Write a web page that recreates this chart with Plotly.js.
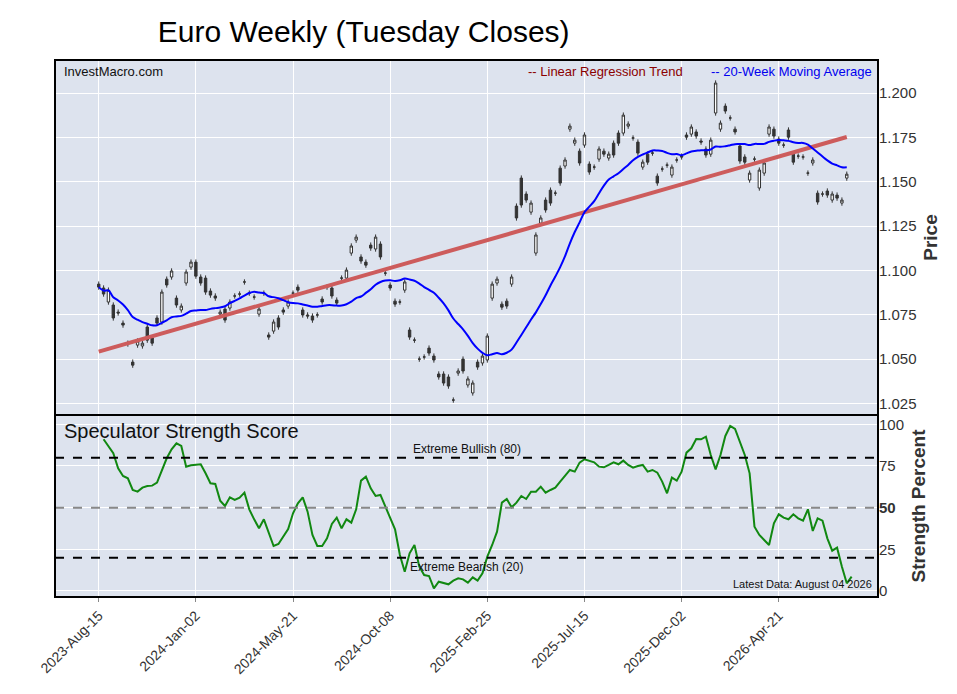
<!DOCTYPE html>
<html><head><meta charset="utf-8">
<script src="https://cdn.plot.ly/plotly-3.0.1.min.js"></script>
<style>body{margin:0}#c{width:957px;height:694px}</style></head>
<body><div id="c"></div>
<script>
const startDate = '2023-08-15';
const openP = [1.0923,1.0901,1.0822,1.0805,1.0765,1.0703,1.0590,1.0483,1.0579,1.0574,1.0681,1.0619,1.0732,1.0709,1.0951,1.0963,1.0844,1.0777,1.0929,1.1019,
1.1047,1.0963,1.0957,1.0884,1.0856,1.0754,1.0782,1.0788,1.0856,1.0867,1.0935,1.0872,1.0850,1.0754,1.0872,1.0636,1.0658,1.0732,1.0777,1.0799,
1.0872,1.0906,1.0777,1.0749,1.0743,1.0749,1.0839,1.0906,1.0901,1.0833,1.0957,1.0957,1.1098,1.1171,1.1076,1.1047,1.1143,1.1121,1.1149,1.0985,
1.0918,1.0827,1.0822,1.0889,1.0664,1.0607,1.0500,1.0512,1.0562,1.0517,1.0416,1.0416,1.0399,1.0269,1.0421,1.0500,1.0354,1.0309,1.0483,1.0478,
1.0495,1.0844,1.0929,1.0810,1.0827,1.0923,1.1363,1.1521,1.1431,1.1329,1.1098,1.1267,1.1397,1.1453,1.1436,1.1577,1.1589,1.1797,1.1718,1.1673,
1.1707,1.1600,1.1583,1.1628,1.1673,1.1634,1.1718,1.1775,1.1775,1.1814,1.1747,1.1724,1.1583,1.1656,1.1662,1.1532,1.1572,1.1594,1.1538,1.1623,
1.1645,1.1764,1.1769,1.1781,1.1730,1.1685,1.1656,1.1888,1.1797,1.1927,1.1860,1.1797,1.1702,1.1640,1.1510,1.1628,1.1465,1.1549,1.1769,1.1797,
1.1741,1.1707,1.1792,1.1656,1.1645,1.1640,1.1549,1.1606,1.1436,1.1431,1.1448,1.1397,1.1425,1.1380,1.1521];
const closeP = [1.0906,1.0867,1.0889,1.0732,1.0760,1.0692,1.0585,1.0466,1.0602,1.0590,1.0607,1.0590,1.0703,1.0878,1.0918,1.0997,1.0805,1.0799,1.0991,1.1047,
1.0968,1.0929,1.0878,1.0861,1.0844,1.0765,1.0720,1.0822,1.0856,1.0867,1.0935,1.0872,1.0850,1.0782,1.0872,1.0624,1.0709,1.0681,1.0765,1.0822,
1.0872,1.0889,1.0749,1.0743,1.0720,1.0749,1.0822,1.0906,1.0856,1.0816,1.0957,1.1002,1.1138,1.1188,1.1053,1.1030,1.1126,1.1188,1.1076,1.0985,
1.0901,1.0810,1.0822,1.0935,1.0624,1.0607,1.0500,1.0512,1.0534,1.0495,1.0399,1.0365,1.0348,1.0269,1.0433,1.0433,1.0388,1.0365,1.0455,1.0517,
1.0630,1.0923,1.0951,1.0793,1.0799,1.0963,1.1296,1.1369,1.1397,1.1380,1.1200,1.1296,1.1341,1.1380,1.1436,1.1493,1.1623,1.1814,1.1735,1.1606,
1.1764,1.1555,1.1583,1.1685,1.1656,1.1656,1.1651,1.1718,1.1876,1.1826,1.1747,1.1662,1.1611,1.1611,1.1662,1.1493,1.1572,1.1594,1.1583,1.1623,
1.1640,1.1752,1.1809,1.1758,1.1724,1.1651,1.1735,1.2057,1.1831,1.1899,1.1860,1.1781,1.1617,1.1611,1.1549,1.1628,1.1566,1.1606,1.1809,1.1758,
1.1718,1.1707,1.1752,1.1611,1.1645,1.1640,1.1549,1.1623,1.1386,1.1431,1.1425,1.1431,1.1408,1.1397,1.1543];
const strength = [91,87,82.6,73.6,69,67.6,60.6,59.6,62,63,63.2,65,72,79.6,85,88.6,87,74.6,75.4,75.5,
76,70.6,64.6,64.2,54.2,51,56.2,54.6,56,59,49,43,37.6,43,35.6,27,28.2,32.6,37.2,46.6,
52.6,56.2,47.6,33.6,27,27,31.6,40.2,44,37.6,43,41,49,66.2,68.6,61.6,57,57.6,51,44.6,
37,21.6,11.6,22.6,27.6,14.6,9.6,9,1.6,5.6,4.6,4,6.2,7.6,7,5,8.2,6.2,10.6,20.6,
27.6,35.6,53,55.2,50.2,53,57,55.2,59.6,59.6,62.6,59,60.6,62,65.6,69,72.6,71.6,77,79,
78.2,77.2,74.6,74.2,75.6,77.2,76,78.2,75.6,74,75,75.6,71.6,72.6,71,65.6,58.6,68,66.2,71.6,
83,85.6,91.2,91,92.6,81.6,73,81.6,93,99,97.2,89.6,81.6,70.6,38.6,33.6,30.6,27.6,40.6,46,
44,43,46,43.6,42.2,49,36,43.6,42.2,31.6,24.2,26,14.6,4.6,8.6];
const tickEvery = 20;

const MON=['Jan','Feb','Mar','Apr','May','Jun','Jul','Aug','Sep','Oct','Nov','Dec'];
function dateAt(i){const d=new Date(startDate+'T00:00:00Z');d.setUTCDate(d.getUTCDate()+7*i);return d;}
function iso(d){return d.toISOString().slice(0,10);}
const N=closeP.length;
const xs=[];for(let i=0;i<N;i++)xs.push(iso(dateAt(i)));
const xs2=[];for(let i=0;i<strength.length;i++)xs2.push(iso(dateAt(i+1)));
const hi=openP.map((o,i)=>Math.max(o,closeP[i])+0.0015);
const lo=openP.map((o,i)=>Math.min(o,closeP[i])-0.0015);
// 20-week moving average
const ma=closeP.map((c,i)=>{const s=closeP.slice(Math.max(0,i-19),i+1);return s.reduce((a,b)=>a+b,0)/s.length;});
// linear regression
let sx=0,sy=0,sxx=0,sxy=0;closeP.forEach((c,i)=>{sx+=i;sy+=c;sxx+=i*i;sxy+=i*c;});
const slope=(N*sxy-sx*sy)/(N*sxx-sx*sx), icpt=(sy-slope*sx)/N;
const reg=[icpt, icpt+slope*(N-1)];
const tv=[],tt=[];
for(let i=0;i<160;i+=tickEvery){const d=dateAt(i);tv.push(iso(d));tt.push(d.getUTCFullYear()+'-'+MON[d.getUTCMonth()]+'-'+String(d.getUTCDate()).padStart(2,'0'));}

const traces=[
{type:'candlestick',x:xs,open:openP,high:hi,low:lo,close:closeP,xaxis:'x',yaxis:'y',
 increasing:{line:{color:'#333',width:1},fillcolor:'#ffffff'},decreasing:{line:{color:'#333',width:1},fillcolor:'#333333'},whiskerwidth:0,showlegend:false,hoverinfo:'skip'},
{type:'scatter',mode:'lines',x:[xs[0],xs[N-1]],y:reg,line:{color:'#cd5c5c',width:4},xaxis:'x',yaxis:'y',showlegend:false},
{type:'scatter',mode:'lines',x:xs,y:ma,line:{color:'#0000ff',width:2,shape:'spline'},xaxis:'x',yaxis:'y',showlegend:false},
{type:'scatter',mode:'lines',x:xs2,y:strength,line:{color:'#118811',width:2},xaxis:'x',yaxis:'y2',showlegend:false}
];
const dom2=[0,0.339];
const layout={
 width:957,height:694,margin:{l:55,r:79,t:60,b:97},
 paper_bgcolor:'#ffffff',plot_bgcolor:'#dde3ee',
 font:{family:'Liberation Sans, Arial',color:'#222'},
 title:{text:'Euro Weekly (Tuesday Closes)',font:{size:30,color:'#000',family:'Liberation Sans, Arial'},x:0.38,xanchor:'center',y:0.955,yanchor:'middle'},
 xaxis:{type:'date',anchor:'y2',range:[iso(dateAt(-9.1)),iso(dateAt(160.5))],tickvals:tv,ticktext:tt,tickangle:-45,
   tickfont:{size:14,color:'#333'},gridcolor:'#ffffff',gridwidth:1,showline:false,zeroline:false,rangeslider:{visible:false},ticks:'outside',ticklen:4,tickcolor:'#888'},
 yaxis:{domain:[0.339,1],side:'right',range:[1.0185,1.2187],tickvals:[1.025,1.05,1.075,1.1,1.125,1.15,1.175,1.2],tickformat:'.3f',
   tickfont:{size:15,color:'#333'},gridcolor:'#ffffff',zeroline:false,
   title:{text:'<b>Price</b>',font:{size:19,color:'#333'},standoff:8}},
 yaxis2:{domain:dom2,side:'right',anchor:'x',range:[-3.6,105.6],tickvals:[0,25,50,75,100],ticktext:['0','25','<b>50</b>','75','100'],
   tickfont:{size:15,color:'#333'},gridcolor:'#ffffff',zeroline:false,
   title:{text:'<b>Strength Percent</b>',font:{size:19,color:'#333'},standoff:8}},
 shapes:[
  {type:'line',xref:'paper',x0:0,x1:1,yref:'y2',y0:80,y1:80,line:{color:'#000',width:2,dash:'dash'}},
  {type:'line',xref:'paper',x0:0,x1:1,yref:'y2',y0:20,y1:20,line:{color:'#000',width:2,dash:'dash'}},
  {type:'line',xref:'paper',x0:0,x1:1,yref:'y2',y0:50,y1:50,line:{color:'#888',width:2,dash:'dash'}},
  {type:'rect',xref:'paper',yref:'paper',x0:0,x1:1,y0:0.339,y1:1,line:{color:'#000',width:2}},
  {type:'rect',xref:'paper',yref:'paper',x0:0,x1:1,y0:0,y1:0.339,line:{color:'#000',width:2}}
 ],
 annotations:[
  {text:'InvestMacro.com',xref:'paper',yref:'paper',x:0.008,y:0.997,xanchor:'left',yanchor:'top',showarrow:false,font:{size:13,color:'#111'}},
  {text:'-- Linear Regression Trend',xref:'paper',yref:'paper',x:0.765,y:0.997,xanchor:'right',yanchor:'top',showarrow:false,font:{size:13,color:'#8b0000'}},
  {text:'-- 20-Week Moving Average',xref:'paper',yref:'paper',x:0.995,y:0.997,xanchor:'right',yanchor:'top',showarrow:false,font:{size:13,color:'#0000ee'}},
  {text:'Speculator Strength Score',xref:'paper',yref:'paper',x:0.008,y:0.333,xanchor:'left',yanchor:'top',showarrow:false,font:{size:20,color:'#111'}},
  {text:'Extreme Bullish (80)',xref:'paper',yref:'y2',x:0.5,y:80,xanchor:'center',yanchor:'bottom',showarrow:false,font:{size:12,color:'#111'}},
  {text:'Extreme Bearish (20)',xref:'paper',yref:'y2',x:0.5,y:20,xanchor:'center',yanchor:'top',showarrow:false,font:{size:12,color:'#111'}},
  {text:'Latest Data: August 04 2026',xref:'paper',yref:'paper',x:0.995,y:0.01,xanchor:'right',yanchor:'bottom',showarrow:false,font:{size:11,color:'#111'}}
 ]
};
Plotly.newPlot('c',traces,layout,{displayModeBar:false,staticPlot:true});
</script></body></html>
